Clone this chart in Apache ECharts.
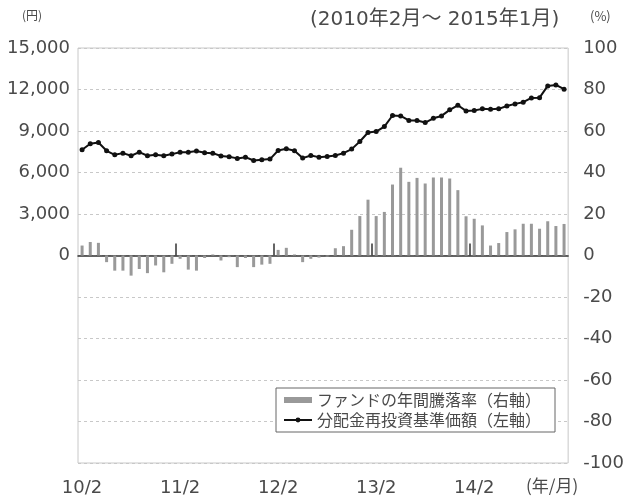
<!DOCTYPE html>
<html>
<head>
<meta charset="utf-8">
<script src="https://cdn.jsdelivr.net/npm/echarts@6/dist/echarts.min.js"></script>
<style>
html,body{margin:0;padding:0;background:#fff;}
#c{width:627px;height:499px;}
</style>
</head>
<body>
<div id="c"></div>
<script>
var months = ['10/2','10/3','10/4','10/5','10/6','10/7','10/8','10/9','10/10','10/11','10/12','11/1',
  '11/2','11/3','11/4','11/5','11/6','11/7','11/8','11/9','11/10','11/11','11/12','12/1',
  '12/2','12/3','12/4','12/5','12/6','12/7','12/8','12/9','12/10','12/11','12/12','13/1',
  '13/2','13/3','13/4','13/5','13/6','13/7','13/8','13/9','13/10','13/11','13/12','14/1',
  '14/2','14/3','14/4','14/5','14/6','14/7','14/8','14/9','14/10','14/11','14/12','15/1'];

// 分配金再投資基準価額 (円, left axis)
var navYen = [7640,8075,8170,7570,7280,7400,7210,7470,7210,7280,
  7210,7330,7470,7470,7550,7430,7400,7190,7140,7020,
  7110,6870,6920,6970,7590,7710,7570,7040,7230,7110,
  7160,7230,7400,7690,8240,8890,8960,9320,10120,10090,
  9760,9760,9610,9920,10090,10530,10860,10450,10480,10600,
  10580,10600,10810,10960,11080,11390,11410,12260,12330,12020];

// ファンドの年間騰落率 (%, right axis)
var annualReturn = [4.8,6.5,6.1,-3.2,-7.3,-7.3,-9.7,-6.5,-8.5,-4.8,
  -8.1,-4.0,-1.6,-6.8,-7.3,-1.2,0.5,-2.4,-0.8,-5.6,
  -1.2,-5.6,-4.4,-4.0,2.7,3.7,0.5,-3.2,-1.6,-1.0,
  -0.5,3.5,4.5,12.4,19,26.9,19,21,34.2,42.3,
  35.5,37.4,34.7,37.6,37.6,37.1,31.5,18.9,17.7,14.5,
  4.8,6,11.3,12.6,15.3,15.3,12.9,16.5,14.2,15.2];

// month counts (from 10/2) where the year ticks sit on the zero line
var yearTickMonths = [12, 24, 36, 48];

var seriesNames = ['ファンドの年間騰落率（右軸）','分配金再投資基準価額（左軸）'];
var titleText = '(2010年2月～ 2015年1月)';
var leftUnit = '(円)';
var rightUnit = '(%)';
var xUnit = '(年/月)';

var numFont = 'DejaVu Sans, Noto Sans CJK JP';
var txtColor = '#4a4a4a';

var chart = echarts.init(document.getElementById('c'), null, {renderer:'canvas'});
chart.setOption({
  animation:false,
  backgroundColor:'#fff',
  grid:{left:78,right:54,top:48,bottom:36,show:true,borderColor:'#c8c8c8',borderWidth:1,backgroundColor:'transparent'},
  legend:{
    orient:'vertical', left:276, top:388,
    data:[
      {name:seriesNames[0], icon:'rect'},
      {name:seriesNames[1]}
    ],
    itemWidth:28, itemHeight:6, itemGap:4,
    padding:[4,14,4,7],
    backgroundColor:'#fff', borderColor:'#666', borderWidth:1,
    textStyle:{fontFamily:'Noto Sans CJK JP', fontSize:16, color:txtColor}
  },
  xAxis:[
    {type:'category', data:months, position:'bottom', boundaryGap:true,
     axisLine:{show:false, onZero:false}, axisTick:{show:false}, splitLine:{show:false},
     axisLabel:{interval:11, margin:16, fontFamily:numFont, fontSize:18, color:txtColor}},
    {type:'value', min:0, max:months.length, position:'bottom',
     axisLine:{show:true, onZero:true, onZeroAxisIndex:0, lineStyle:{color:'#333', width:1.5}},
     axisTick:{show:true, inside:true, length:12, customValues:yearTickMonths, lineStyle:{color:'#333', width:1.5}},
     axisLabel:{show:false}, splitLine:{show:false}}
  ],
  yAxis:[
    {type:'value', min:-15000, max:15000, interval:3000, position:'left',
     axisLine:{show:false}, axisTick:{show:false}, splitLine:{show:false},
     axisLabel:{margin:8, fontFamily:numFont, fontSize:18, color:txtColor,
       formatter:function(v){ return v < 0 ? '' : v.toLocaleString('en-US'); }}},
    {type:'value', min:-100, max:100, interval:20, position:'right',
     axisLine:{show:false}, axisTick:{show:false},
     splitLine:{show:true, lineStyle:{color:'#c8c8c8', type:[3,3], width:1}},
     axisLabel:{margin:15, fontFamily:numFont, fontSize:18, color:txtColor}}
  ],
  series:[
    {name:seriesNames[0], type:'bar', xAxisIndex:0, yAxisIndex:1, data:annualReturn,
     barWidth:3, itemStyle:{color:'#999999'}, z:2},
    {name:seriesNames[1], type:'line', xAxisIndex:0, yAxisIndex:0, data:navYen,
     symbol:'circle', symbolSize:5, showSymbol:true,
     lineStyle:{color:'#111', width:2}, itemStyle:{color:'#111'}, z:5}
  ],
  graphic:[
    {type:'text', left:310, top:10, style:{text:titleText, font:'20px ' + numFont, fill:txtColor}},
    {type:'text', left:22, top:9, style:{text:leftUnit, font:'12px Noto Sans CJK JP', fill:txtColor}},
    {type:'text', left:590, top:10, style:{text:rightUnit, font:'13px Noto Sans CJK JP', fill:txtColor}},
    {type:'text', left:526, top:477, style:{text:xUnit, font:'17px Noto Sans CJK JP', fill:txtColor}}
  ]
});
</script>
</body>
</html>
